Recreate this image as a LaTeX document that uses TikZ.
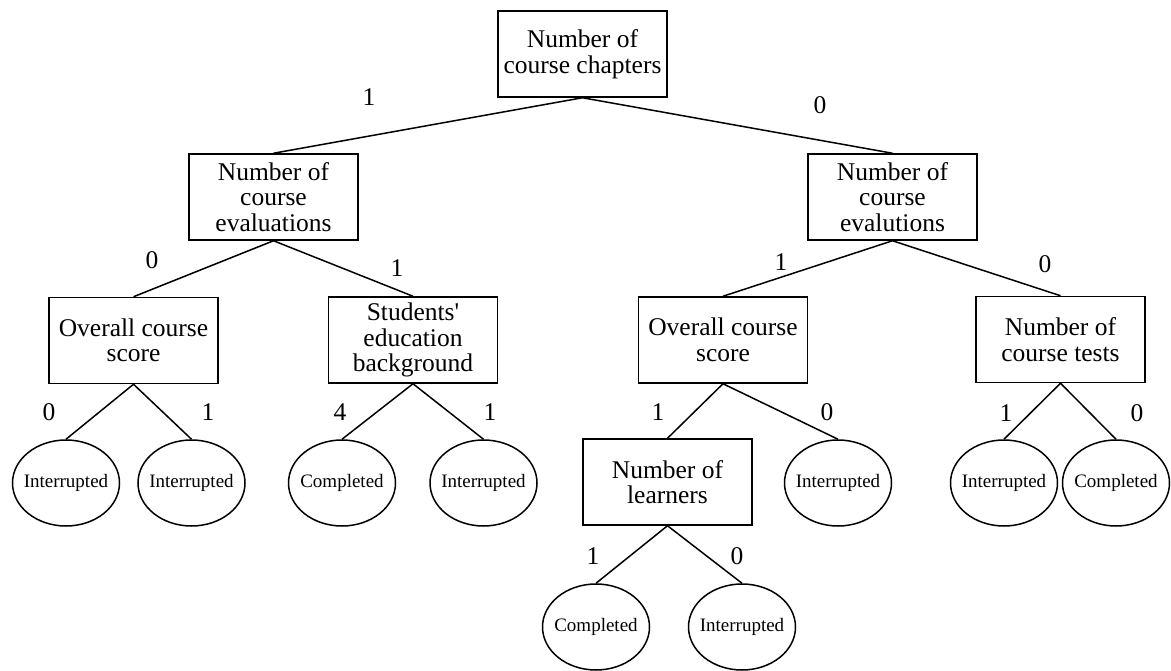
\documentclass[tikz,border=0pt]{standalone}
\usepackage{fontspec}
\setmainfont{Liberation Serif}
\usetikzlibrary{shapes.geometric}
\begin{document}
\begin{tikzpicture}[x=1pt,y=-1pt,
  box/.style={draw,line width=1.5pt,minimum width=169pt,minimum height=86pt,inner sep=0pt,
    align=center,font=\fontsize{25.5}{25.5}\selectfont},
  leaf/.style={draw,ellipse,line width=1.5pt,minimum width=107pt,minimum height=86pt,
    inner xsep=-7pt,inner ysep=0pt,font=\fontsize{19}{21}\selectfont},
  lbl/.style={font=\fontsize{25.5}{26}\selectfont,inner sep=0pt},
  edge/.style={line width=1.5pt}]
\useasboundingbox (0,0) rectangle (1171,671);
\node[box] (root) at (582.5,54) {Number of\\course chapters};
\node[box] (evL) at (273.5,197) {Number of\\course\\evaluations};
\node[box] (evR) at (892.5,197) {Number of\\course\\evalutions};
\node[box] (ocsL) at (133.5,340.5) {Overall course\\score};
\node[box] (stu) at (413,340) {Students\textquotesingle\\education\\background};
\node[box] (ocsR) at (723,340) {Overall course\\score};
\node[box] (tests) at (1060.5,339.5) {Number of\\course tests};
\node[box] (learn) at (667.5,482) {Number of\\learners};
\node[leaf] (l1) at (66,483) {Interrupted};
\node[leaf] (l2) at (191.5,483) {Interrupted};
\node[leaf] (l3) at (342,483) {Completed};
\node[leaf] (l4) at (483.5,483) {Interrupted};
\node[leaf] (l5) at (838,483) {Interrupted};
\node[leaf] (l6) at (1004,483) {Interrupted};
\node[leaf] (l7) at (1116,483) {Completed};
\node[leaf] (b1) at (596,627) {Completed};
\node[leaf] (b2) at (742,627) {Interrupted};
\draw[edge] (root.south) -- (evL.north);
\draw[edge] (root.south) -- (evR.north);
\draw[edge] (evL.south) -- (ocsL.north);
\draw[edge] (evL.south) -- (stu.north);
\draw[edge] (evR.south) -- (ocsR.north);
\draw[edge] (evR.south) -- (tests.north);
\draw[edge] (ocsL.south) -- (l1.north);
\draw[edge] (ocsL.south) -- (l2.north);
\draw[edge] (stu.south) -- (l3.north);
\draw[edge] (stu.south) -- (l4.north);
\draw[edge] (ocsR.south) -- (learn.north);
\draw[edge] (ocsR.south) -- (l5.north);
\draw[edge] (tests.south) -- (l6.north);
\draw[edge] (tests.south) -- (l7.north);
\draw[edge] (learn.south) -- (b1.north);
\draw[edge] (learn.south) -- (b2.north);
\node[lbl] (t1) at (369,97) {1};
\node[lbl] (t2) at (820,105) {0};
\node[lbl] (t3) at (152,260) {0};
\node[lbl] (t4) at (397,268) {1};
\node[lbl] (t5) at (781,262) {1};
\node[lbl] (t6) at (1045,264) {0};
\node[lbl] (t7) at (49,412) {0};
\node[lbl] (t8) at (208,412) {1};
\node[lbl] (t9) at (340,412) {4};
\node[lbl] (t10) at (490,412) {1};
\node[lbl] (t11) at (658,412) {1};
\node[lbl] (t12) at (827,412) {0};
\node[lbl] (t13) at (1006,413) {1};
\node[lbl] (t14) at (1137,413) {0};
\node[lbl] (t15) at (593,556) {1};
\node[lbl] (t16) at (737,556) {0};
\end{tikzpicture}
\end{document}
